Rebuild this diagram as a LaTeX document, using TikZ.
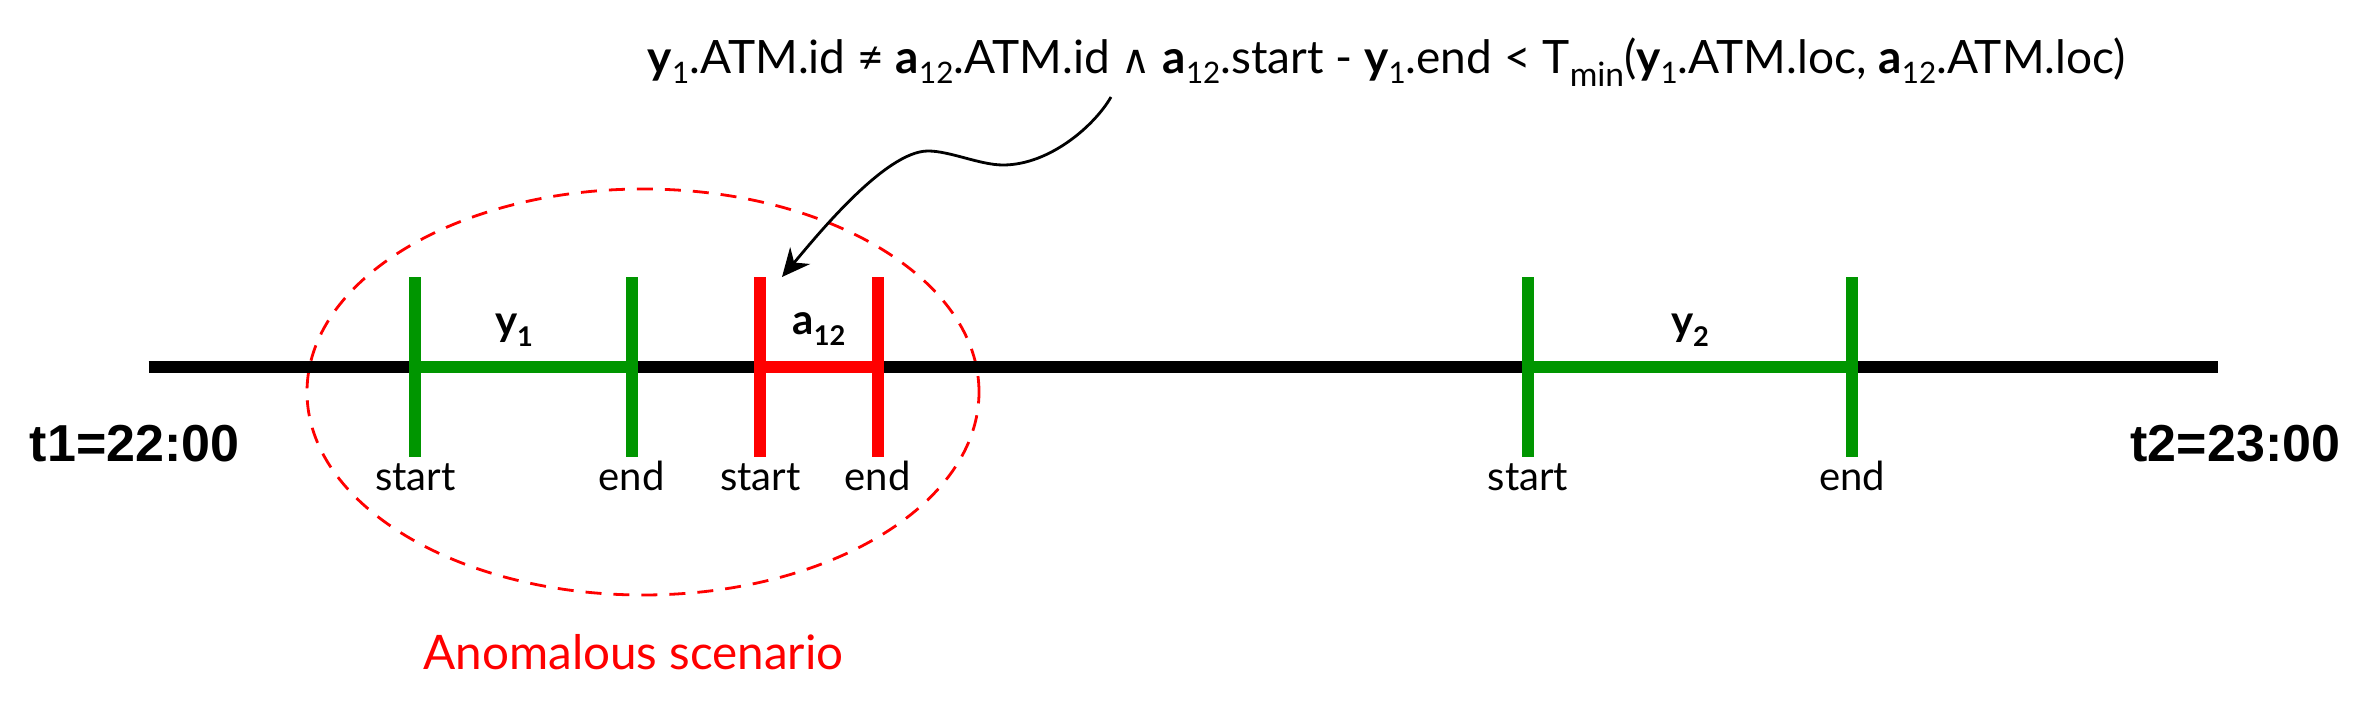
\documentclass[tikz,border=0pt]{standalone}
\usepackage{fontspec}
\setmainfont{Lato}
\newfontfamily\tfont{Liberation Sans}
\newfontfamily\symfont{DejaVu Sans}
\usetikzlibrary{arrows.meta,shapes.geometric}
\definecolor{tgreen}{RGB}{0,150,0}
\definecolor{tred}{RGB}{255,0,0}
\newcommand\fsub[1]{\raisebox{-2.5pt}{\fontsize{7.4pt}{7.4pt}\selectfont #1}}
\newcommand\msub[1]{\raisebox{-3.3pt}{\fontsize{8.4pt}{8.4pt}\selectfont #1}}
\newcommand\lsub[1]{\raisebox{-2.6pt}{\fontsize{6.8pt}{6.8pt}\selectfont #1}}
\tikzset{
  axisline/.style={line width=3pt, line cap=butt},
  seg/.style={line width=3pt, line cap=butt},
  tickmark/.style={line width=3pt, line cap=butt},
  ivlabel/.style={inner sep=0pt, anchor=base, font=\fontsize{10.5pt}{12pt}\selectfont\bfseries},
  endlabel/.style={inner sep=0pt, anchor=base, font=\fontsize{10pt}{12pt}\selectfont},
  timelabel/.style={inner sep=0pt, font=\fontsize{13pt}{15pt}\selectfont\tfont\bfseries},
}
\begin{document}
\begin{tikzpicture}[x=0.25pt,y=-0.25pt]
\useasboundingbox (0,0) rectangle (2367,726);
% formula
\node[inner sep=0pt, anchor=base, font=\fontsize{11.5pt}{14pt}\selectfont] (formula) at (1387,73.3)
 {\textbf{y}\fsub{1}.ATM.id ≠ \textbf{a}\fsub{12}.ATM.id {\symfont\fontsize{10pt}{12pt}\selectfont ∧} \textbf{a}\fsub{12}.start - \textbf{y}\fsub{1}.end < T\msub{min}(\textbf{y}\fsub{1}.ATM.loc, \textbf{a}\fsub{12}.ATM.loc)};
% scenario ellipse
\node[ellipse, draw=tred, line width=0.7pt, dash pattern=on 4pt off 3pt, inner sep=0pt,
      minimum width=168pt, minimum height=101.5pt] (scen) at (643,392) {};
\node[inner sep=0pt, anchor=base, text=tred, font=\fontsize{11.9pt}{14pt}\selectfont] (scenlab) at (633.5,669.3) {Anomalous scenario};
% timeline
\coordinate (L) at (148.6,367.3);
\coordinate (R) at (2218,367.3);
\draw[axisline] (L) -- (R);
\coordinate (y1s) at (415.3,367.3);
\coordinate (y1e) at (631.5,367.3);
\coordinate (a12s) at (760.3,367.3);
\coordinate (a12e) at (877.5,367.3);
\coordinate (y2s) at (1528,367.3);
\coordinate (y2e) at (1852,367.3);
\draw[seg, tgreen] (y1s) -- (y1e);
\draw[seg, tred] (a12s) -- (a12e);
\draw[seg, tgreen] (y2s) -- (y2e);
\foreach \p/\c in {y1s/tgreen, y1e/tgreen, a12s/tred, a12e/tred, y2s/tgreen, y2e/tgreen}
  \draw[tickmark, \c] ([yshift=22.5pt]\p) -- ([yshift=-22.5pt]\p);
% interval labels
\node[ivlabel] (ly1) at (514,336) {y\lsub{1}};
\node[ivlabel] (la12) at (819,335) {a\lsub{12}};
\node[ivlabel] (ly2) at (1690,336) {y\lsub{2}};
\node[endlabel] (sy1) at (415.3,490.7) {start};
\node[endlabel] (ey1) at (631.5,490.7) {end};
\node[endlabel] (sa12) at (760.3,490.7) {start};
\node[endlabel] (ea12) at (877.5,490.7) {end};
\node[endlabel] (sy2) at (1528,490.7) {start};
\node[endlabel] (ey2) at (1852,490.7) {end};
% time labels
\node[timelabel, anchor=base west] (t1) at (29,461.7) {t1=22:00};
\node[timelabel, anchor=base east] (t2) at (2341,461.7) {t2=23:00};
% arrow
\coordinate (arrS) at (1111,97);
\coordinate (arrE) at (782,277);
\draw[line width=0.7pt, -{Stealth[length=7pt,width=6.5pt]}] (arrS)
  .. controls (1095,125) and (1050,165) .. (1003,165)
  .. controls (980,165) and (950,151) .. (928,151)
  .. controls (885,151) and (815,238) .. (arrE);
\end{tikzpicture}
\end{document}
